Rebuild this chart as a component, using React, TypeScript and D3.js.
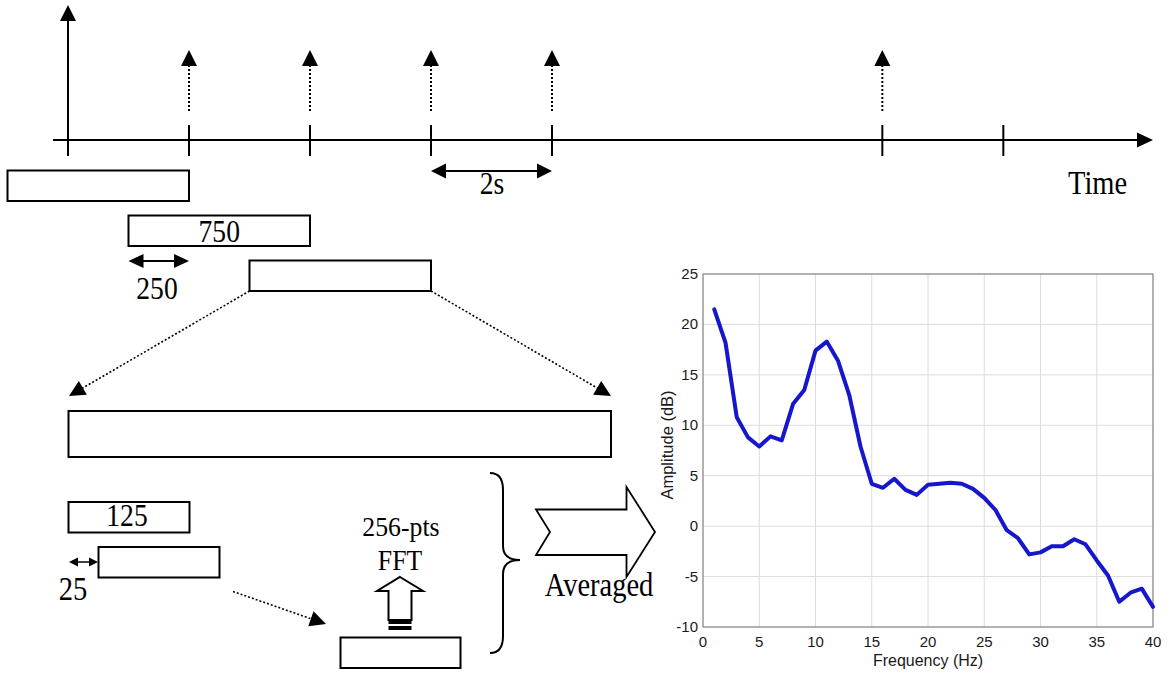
import React from 'react';
import * as d3 from 'd3';

// ---------- data ----------
const freqHz = [1, 2, 3, 4, 5, 6, 7, 8, 9, 10, 11, 12, 13, 14, 15, 16, 17, 18, 19, 20,
  21, 22, 23, 24, 25, 26, 27, 28, 29, 30, 31, 32, 33, 34, 35, 36, 37, 38, 39, 40];
const amplitudeDb = [21.5, 18.2, 10.8, 8.8, 7.9, 8.9, 8.5, 12.1, 13.5, 17.4,
  18.3, 16.4, 13.0, 7.9, 4.2, 3.8, 4.7, 3.6, 3.1, 4.1,
  4.2, 4.3, 4.2, 3.7, 2.8, 1.6, -0.4, -1.2, -2.8, -2.6,
  -2.0, -2.0, -1.3, -1.8, -3.4, -4.9, -7.5, -6.6, -6.2, -8.0];
const xTicks = [0, 5, 10, 15, 20, 25, 30, 35, 40];
const yTicks = [-10, -5, 0, 5, 10, 15, 20, 25];

// timeline (units of one tick spacing)
const timeTicks = [0, 1, 2, 3, 4, 6.73, 7.73];
const eventTimes = [1, 2, 3, 4, 6.73];
const windowStarts = [-0.5, 0.5, 1.5];
const windowLabels = ['', '750', ''];
const windowLength = 1.5;

const SERIF = '"Liberation Serif", "Times New Roman", serif';
const SANS = '"Liberation Sans", Arial, Helvetica, sans-serif';

function headPath(tx: number, ty: number, fx: number, fy: number, len: number, hw: number) {
  const dx = tx - fx, dy = ty - fy;
  const d = Math.hypot(dx, dy);
  const ux = dx / d, uy = dy / d;
  const bx = tx - ux * len, by = ty - uy * len;
  return `M${tx},${ty}L${bx - uy * hw},${by + ux * hw}L${bx + uy * hw},${by - ux * hw}Z`;
}
function baseOf(tx: number, ty: number, fx: number, fy: number, len: number) {
  const dx = tx - fx, dy = ty - fy;
  const d = Math.hypot(dx, dy);
  return [tx - (dx / d) * len, ty - (dy / d) * len];
}

function DoubleArrow({ x1, x2, y, len, hw, sw }: { x1: number; x2: number; y: number; len: number; hw: number; sw: number }) {
  return (
    <g>
      <line x1={x1 + len - 1} x2={x2 - len + 1} y1={y} y2={y} stroke="#000" strokeWidth={sw} />
      <path d={headPath(x1, y, x2, y, len, hw)} fill="#000" />
      <path d={headPath(x2, y, x1, y, len, hw)} fill="#000" />
    </g>
  );
}

function DottedArrow({ x1, y1, x2, y2 }: { x1: number; y1: number; x2: number; y2: number }) {
  const [bx, by] = baseOf(x2, y2, x1, y1, 15);
  return (
    <g>
      <line x1={x1} y1={y1} x2={bx} y2={by} stroke="#000" strokeWidth={1.6} strokeDasharray="2,2" />
      <path d={headPath(x2, y2, x1, y1, 16, 8)} fill="#000" />
    </g>
  );
}

function SerifText({ x, y, size, anchor, sy, children }: { x: number; y: number; size: number; anchor?: string; sy?: number; children: any }) {
  return (
    <text transform={`translate(${x},${y}) scale(0.92,${sy ?? 1.08})`} textAnchor={anchor || 'middle'}
      fontFamily={SERIF} fontSize={size} fill="#000">{children}</text>
  );
}

export default function App() {
  const tx = d3.scaleLinear().domain([0, 1]).range([68, 189]);
  const axisY = 140;

  const x = d3.scaleLinear().domain([0, 40]).range([703, 1153]);
  const y = d3.scaleLinear().domain([-10, 25]).range([627, 274]);
  const line = d3.line<number>().x((_, i) => x(freqHz[i])).y((d) => y(d));

  const box3L = tx(windowStarts[2]);
  const box3R = tx(windowStarts[2] + windowLength);
  const box3B = 170.5 + 2 * 45 + 30.5;

  return (
    <svg width={1171} height={675} style={{ position: 'absolute', left: 0, top: 0, background: '#fff' }}>
      <rect x={0} y={0} width={1171} height={675} fill="#fff" />

      {/* ---- timeline ---- */}
      <line x1={tx(0)} x2={tx(0)} y1={156} y2={19} stroke="#000" strokeWidth={2} />
      <path d={headPath(tx(0), 5, tx(0), 100, 16, 8)} fill="#000" />
      <line x1={53} x2={1139} y1={axisY} y2={axisY} stroke="#000" strokeWidth={2} />
      <path d={headPath(1153, axisY, 1000, axisY, 16, 7.5)} fill="#000" />
      {timeTicks.map((t) => (
        <line key={t} x1={tx(t)} x2={tx(t)} y1={125} y2={156} stroke="#000" strokeWidth={2} />
      ))}
      {eventTimes.map((t) => (
        <g key={t}>
          <line x1={tx(t)} x2={tx(t)} y1={111} y2={65} stroke="#000" strokeWidth={2} strokeDasharray="2,2" />
          <path d={headPath(tx(t), 50, tx(t), 100, 16, 8)} fill="#000" />
        </g>
      ))}

      {windowStarts.map((s, i) => (
        <g key={i}>
          <rect x={tx(s)} y={170.5 + i * 45} width={tx(s + windowLength) - tx(s)} height={30.5}
            fill="#fff" stroke="#000" strokeWidth={2} />
          {windowLabels[i] && (
            <SerifText x={(tx(s) + tx(s + windowLength)) / 2} y={170.5 + i * 45 + 26} size={30}>{windowLabels[i]}</SerifText>
          )}
        </g>
      ))}

      <DoubleArrow x1={tx(3)} x2={tx(4)} y={171} len={15} hw={7.5} sw={2} />
      <SerifText x={492} y={194} size={30}>2s</SerifText>
      <SerifText x={1068} y={194} size={31} anchor="start">Time</SerifText>

      <DoubleArrow x1={tx(0.5)} x2={tx(1)} y={261} len={15} hw={7} sw={2} />
      <SerifText x={157} y={299} size={30}>250</SerifText>

      <DottedArrow x1={box3L} y1={box3B} x2={69} y2={396} />
      <DottedArrow x1={box3R} y1={box3B} x2={611} y2={396} />

      <rect x={68.5} y={411} width={542.5} height={46} fill="#fff" stroke="#000" strokeWidth={2} />

      <rect x={68.5} y={502} width={121} height={30.5} fill="#fff" stroke="#000" strokeWidth={2} />
      <SerifText x={127} y={526} size={30}>125</SerifText>
      <rect x={98.5} y={547} width={121} height={30.5} fill="#fff" stroke="#000" strokeWidth={2} />
      <DoubleArrow x1={69} x2={98} y={562} len={9} hw={4.5} sw={1.5} />
      <SerifText x={73} y={600} size={31}>25</SerifText>

      <DottedArrow x1={233} y1={591.5} x2={326} y2={624} />

      <rect x={340.5} y={637.5} width={120} height={30.5} fill="#fff" stroke="#000" strokeWidth={2} />
      <path d="M400,577 L423,591 L411.5,591 L411.5,620 L388.5,620 L388.5,591 L377,591 Z"
        fill="#fff" stroke="#000" strokeWidth={2} strokeLinejoin="miter" />
      <rect x={388.5} y={620} width={23} height={4} fill="#000" />
      <rect x={388.5} y={626} width={23} height={4} fill="#000" />
      <SerifText x={401} y={536} size={28} sy={1.0}>256-pts</SerifText>
      <SerifText x={400} y={570} size={28} sy={1.05}>FFT</SerifText>

      <path d="M490,473 Q503,473 503,490 L503,546 Q503,560 520,560 Q503,560 503,574 L503,636 Q503,653 490,653"
        fill="none" stroke="#000" strokeWidth={2} />

      <path d="M536,509.5 L626.5,509.5 L626.5,487 L655,532 L626.5,577 L626.5,555 L536,555 L550,532 Z"
        fill="#fff" stroke="#000" strokeWidth={1.8} strokeLinejoin="miter" />
      <SerifText x={599} y={596} size={31}>Averaged</SerifText>

      {/* ---- chart ---- */}
      <g>
        {xTicks.map((t) => (
          <line key={'gx' + t} x1={x(t)} x2={x(t)} y1={y(-10)} y2={y(25)} stroke="#dcdcdc" strokeWidth={1} />
        ))}
        {yTicks.map((t) => (
          <line key={'gy' + t} x1={x(0)} x2={x(40)} y1={y(t)} y2={y(t)} stroke="#dcdcdc" strokeWidth={1} />
        ))}
        <rect x={x(0)} y={y(25)} width={x(40) - x(0)} height={y(-10) - y(25)} fill="none" stroke="#777" strokeWidth={1} />
        <path d={line(amplitudeDb) || ''} fill="none" stroke="#1616cc" strokeWidth={4} strokeLinejoin="round" strokeLinecap="round" />
        {xTicks.map((t) => (
          <text key={'tx' + t} x={x(t)} y={647} textAnchor="middle" fontFamily={SANS} fontSize={15} fill="#1a1a1a">{t}</text>
        ))}
        {yTicks.map((t) => (
          <text key={'ty' + t} x={698} y={y(t) + 5} textAnchor="end" fontFamily={SANS} fontSize={15} fill="#1a1a1a">{t}</text>
        ))}
        <text x={928} y={666} textAnchor="middle" fontFamily={SANS} fontSize={16} fill="#1a1a1a">Frequency (Hz)</text>
        <text transform={`translate(673,445) rotate(-90)`} textAnchor="middle" fontFamily={SANS} fontSize={16.5} fill="#1a1a1a">Amplitude (dB)</text>
      </g>
    </svg>
  );
}
